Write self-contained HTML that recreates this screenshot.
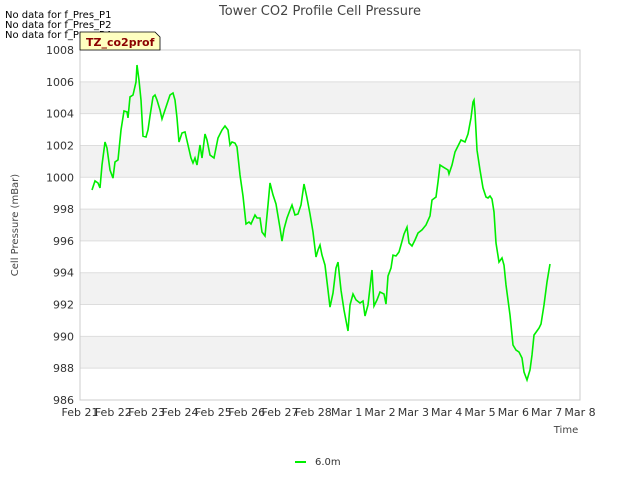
<!DOCTYPE html>
<html><head><meta charset="utf-8"><style>
body{margin:0;background:#fff;font-family:"Liberation Sans","DejaVu Sans",sans-serif}
svg text{font-family:"DejaVu Sans","Liberation Sans",sans-serif}
</style></head><body>
<svg id="chart" width="640" height="480" viewBox="0 0 640 480" xmlns="http://www.w3.org/2000/svg">
<g id="bands"></g><g id="grid"></g>
<rect x="80" y="50" width="500" height="350" fill="none" stroke="#ccc"/>
<g id="yticks"></g><g id="xticks"></g>
<path id="line" fill="none" stroke="#00ee00" stroke-width="1.6"/>
<text x="320" y="15" text-anchor="middle" font-size="13" fill="#444">Tower CO2 Profile Cell Pressure</text>
<text transform="translate(18,225) rotate(-90)" text-anchor="middle" font-size="10" fill="#444">Cell Pressure (mBar)</text>
<text x="566" y="433" text-anchor="middle" font-size="10" fill="#444">Time</text>
<text x="5" y="18" font-size="10">No data for f_Pres_P1</text>
<text x="5" y="28" font-size="10">No data for f_Pres_P2</text>
<text x="5" y="38" font-size="10">No data for f_Pres_P4</text>
<path d="M80,32 H155 L160,37 V50 H80 Z" fill="#ffffc0" stroke="#000" stroke-width="0.8"/>
<text x="86" y="46" font-size="11" font-weight="bold" fill="#8b0000">TZ_co2prof</text>
<line x1="295" y1="462" x2="306" y2="462" stroke="#00ee00" stroke-width="2"/>
<text x="315" y="465" font-size="10" fill="#333">6.0m</text>
</svg>
<script>
const xLabels=["Feb 21","Feb 22","Feb 23","Feb 24","Feb 25","Feb 26","Feb 27","Feb 28","Mar 1","Mar 2","Mar 3","Mar 4","Mar 5","Mar 6","Mar 7","Mar 8"];
const yTicks=[986,988,990,992,994,996,998,1000,1002,1004,1006,1008];
const days=[0.36,0.45,0.54,0.60,0.66,0.75,0.81,0.90,0.99,1.05,1.14,1.23,1.32,1.41,1.44,1.50,1.59,1.68,1.71,1.77,1.83,1.89,1.98,2.04,2.10,2.19,2.25,2.31,2.40,2.46,2.55,2.70,2.79,2.85,2.91,2.97,3.06,3.15,3.24,3.33,3.39,3.45,3.51,3.60,3.66,3.75,3.81,3.90,4.02,4.14,4.26,4.35,4.44,4.50,4.56,4.65,4.71,4.80,4.89,4.98,5.07,5.13,5.25,5.31,5.40,5.46,5.55,5.64,5.70,5.79,5.88,6.00,6.06,6.12,6.21,6.30,6.36,6.45,6.54,6.63,6.72,6.81,6.90,6.99,7.08,7.14,7.20,7.26,7.35,7.44,7.50,7.59,7.68,7.74,7.83,7.92,8.04,8.10,8.19,8.28,8.40,8.49,8.55,8.64,8.76,8.82,8.91,9.00,9.12,9.18,9.24,9.33,9.39,9.48,9.57,9.63,9.72,9.81,9.87,9.96,10.05,10.14,10.26,10.38,10.50,10.56,10.68,10.74,10.80,10.89,11.04,11.07,11.16,11.25,11.31,11.43,11.55,11.64,11.73,11.79,11.82,11.85,11.91,12.00,12.09,12.18,12.24,12.30,12.36,12.42,12.48,12.57,12.66,12.72,12.78,12.90,12.99,13.08,13.17,13.26,13.32,13.41,13.50,13.56,13.62,13.77,13.83,13.92,14.01,14.10];
const pressure=[999.20,999.77,999.64,999.33,1000.77,1002.22,1001.84,1000.46,999.95,1000.96,1001.09,1002.97,1004.17,1004.10,1003.73,1005.05,1005.17,1005.99,1007.06,1006.11,1004.86,1002.59,1002.53,1002.97,1003.85,1005.05,1005.17,1004.86,1004.23,1003.66,1004.23,1005.17,1005.30,1004.86,1003.73,1002.22,1002.78,1002.85,1002.03,1001.21,1000.90,1001.21,1000.77,1002.03,1001.21,1002.72,1002.34,1001.40,1001.21,1002.47,1002.97,1003.22,1002.97,1002.03,1002.22,1002.15,1001.90,1000.14,998.82,997.06,997.19,997.06,997.63,997.44,997.44,996.56,996.31,998.26,999.64,998.89,998.32,996.81,995.99,996.75,997.44,997.94,998.26,997.63,997.69,998.26,999.58,998.70,997.69,996.56,994.99,995.43,995.74,995.11,994.48,992.91,991.84,992.72,994.30,994.67,992.91,991.66,990.34,991.97,992.66,992.29,992.10,992.22,991.28,991.97,994.17,991.91,992.29,992.79,992.66,992.03,993.79,994.30,995.11,995.05,995.30,995.74,996.43,996.87,995.87,995.68,996.06,996.50,996.69,997.00,997.57,998.57,998.76,999.70,1000.77,1000.65,1000.46,1000.21,1000.77,1001.59,1001.84,1002.34,1002.22,1002.72,1003.73,1004.73,1004.86,1004.10,1001.71,1000.46,999.33,998.76,998.70,998.82,998.63,997.82,995.87,994.67,994.93,994.48,993.23,991.34,989.46,989.14,989.02,988.64,987.76,987.26,987.89,988.83,990.08,990.52,990.78,991.97,993.42,994.55];
const NS="http://www.w3.org/2000/svg";
const X0=80,X1=580,Y0=400,Y1=50,YMIN=986,YMAX=1008,DAYS=15;
const xs=d=>X0+(X1-X0)*d/DAYS;
const ys=v=>Y0-(Y0-Y1)*(v-YMIN)/(YMAX-YMIN);
function mk(tag,attrs,parent){const e=document.createElementNS(NS,tag);for(const k in attrs)e.setAttribute(k,attrs[k]);document.getElementById(parent).appendChild(e);return e;}
for(let i=0;i<yTicks.length-1;i++){
  if((yTicks[i]-988)%4===0){
    const r=mk('rect',{x:X0,y:ys(yTicks[i+1]),width:X1-X0,height:ys(yTicks[i])-ys(yTicks[i+1]),fill:'#f2f2f2'},'bands');
    
    
  }
}
yTicks.forEach(v=>{
  const l=mk('line',{x1:X0,x2:X1,y1:ys(v),y2:ys(v),stroke:'#ddd'},'grid');
  
  
  const t=mk('text',{x:X0-6,y:ys(v)+4,'text-anchor':'end','font-size':'11',fill:'#333'},'yticks');
  
  
  t.textContent=v;
});
xLabels.forEach((s,i)=>{
  const t=mk('text',{x:xs(i),y:416,'text-anchor':'middle','font-size':'11',fill:'#333'},'xticks');
  
  
  t.textContent=s;
});
document.getElementById('line').setAttribute('d',days.map((d,i)=>(i?'L':'M')+xs(d).toFixed(1)+','+ys(pressure[i]).toFixed(1)).join(''));
</script>
</body></html>
